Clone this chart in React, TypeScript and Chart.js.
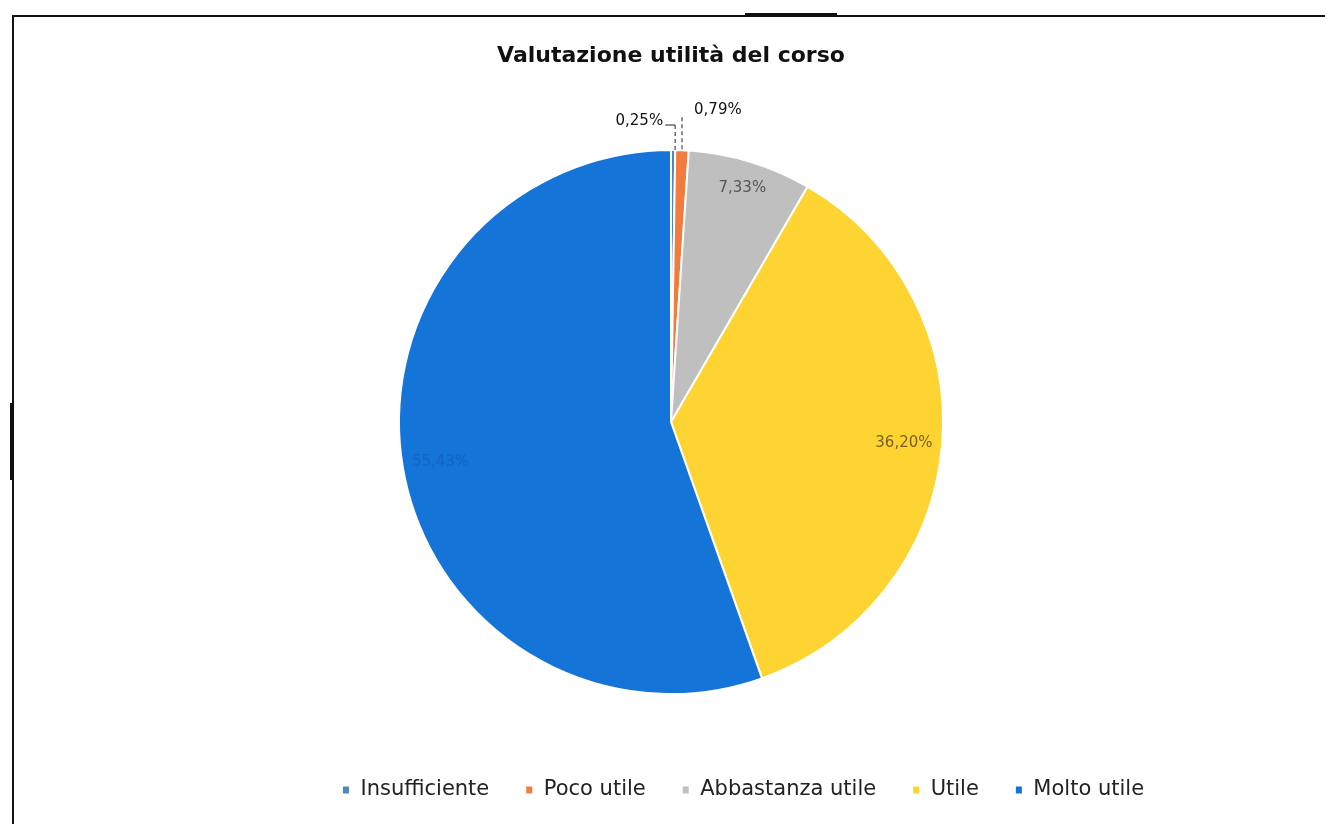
import React, { useEffect, useRef } from "react";
import { Chart, registerables } from "chart.js";

Chart.register(...registerables);

const categories = ["Insufficiente", "Poco utile", "Abbastanza utile", "Utile", "Molto utile"];
const percentValues = [0.25, 0.79, 7.33, 36.2, 55.43];
const valueLabels = ["0,25%", "0,79%", "7,33%", "36,20%", "55,43%"];
const sliceColors = ["#4f86b8", "#f47b3e", "#bfbfbf", "#fdd432", "#1474d8"];
const labelColors = ["#111111", "#111111", "#555555", "#7d5f1c", "#1266c0"];
const chartTitle = "Valutazione utilità del corso";

const FONT = "'DejaVu Sans', Verdana, sans-serif";
const LEGEND_SIZE = 21;
const LEGEND_PAD = 36;

const labelPlugin = {
  id: "sliceLabels",
  afterDatasetsDraw(chart: any) {
    const ctx = chart.ctx;
    const meta = chart.getDatasetMeta(0);
    ctx.save();
    ctx.font = "15px " + FONT;
    ctx.textBaseline = "middle";
    meta.data.forEach((arc: any, i: number) => {
      const { x, y, startAngle, endAngle, outerRadius } = arc.getProps(
        ["x", "y", "startAngle", "endAngle", "outerRadius"],
        true
      );
      const mid = (startAngle + endAngle) / 2;
      ctx.fillStyle = labelColors[i];
      if (i >= 2) {
        const f = i === 2 ? 0.9 : 0.86;
        const lx = x + Math.cos(mid) * outerRadius * f;
        const ly = y + Math.sin(mid) * outerRadius * f;
        ctx.textAlign = "center";
        ctx.fillText(valueLabels[i], lx, ly);
      } else {
        const px = x + Math.cos(mid) * outerRadius;
        const py = y + Math.sin(mid) * outerRadius;
        ctx.strokeStyle = "#222222";
        ctx.lineWidth = 1;
        if (i === 0) {
          const ty = py - 27;
          ctx.textAlign = "right";
          ctx.fillText(valueLabels[i], px - 10, ty - 2);
          ctx.setLineDash([]);
          ctx.beginPath();
          ctx.moveTo(px - 8, ty + 2);
          ctx.lineTo(px + 2, ty + 2);
          ctx.stroke();
          ctx.setLineDash([4, 3]);
          ctx.beginPath();
          ctx.moveTo(px + 2, ty + 2);
          ctx.lineTo(px + 2, py);
          ctx.stroke();
        } else {
          const ty = py - 40;
          ctx.textAlign = "left";
          ctx.fillText(valueLabels[i], px + 12, ty);
          ctx.setLineDash([4, 3]);
          ctx.beginPath();
          ctx.moveTo(px, ty + 7);
          ctx.lineTo(px, py);
          ctx.stroke();
        }
        ctx.setLineDash([]);
      }
    });
    ctx.restore();
  },
};

const layoutPlugin = {
  id: "layoutAdjust",
  afterLayout(chart: any) {
    const lg = chart.legend;
    if (lg) {
      const h = lg.bottom - lg.top;
      lg.left += 72;
      lg.right += 72;
      lg.top = 790 - LEGEND_PAD - LEGEND_SIZE / 2;
      lg.bottom = lg.top + h;
    }
    const ca = chart.chartArea;
    ca.top = 149;
    ca.bottom = 695;
    ca.height = ca.bottom - ca.top;
  },
};

export default function App() {
  const canvasRef = useRef<HTMLCanvasElement>(null);

  useEffect(() => {
    document.body.style.margin = "0";
    document.body.style.background = "#ffffff";
    const chart = new Chart(canvasRef.current as HTMLCanvasElement, {
      type: "pie",
      data: {
        labels: categories,
        datasets: [
          {
            data: percentValues,
            backgroundColor: sliceColors,
            borderColor: "#ffffff",
            borderWidth: 2,
          },
        ],
      },
      options: {
        animation: false,
        responsive: false,
        maintainAspectRatio: false,
        layout: { padding: { left: 17, right: 0, top: 0, bottom: 12 } },
        plugins: {
          title: {
            display: true,
            text: chartTitle,
            color: "#111111",
            font: { size: 22, weight: "bold", family: FONT },
            padding: { top: 43, bottom: 80 },
          },
          legend: {
            position: "bottom",
            labels: {
              color: "#222222",
              font: { size: LEGEND_SIZE, family: FONT },
              boxWidth: 8,
              boxHeight: 9,
              padding: LEGEND_PAD,
            },
          },
          tooltip: { enabled: false },
        },
      },
      plugins: [labelPlugin, layoutPlugin],
    });
    return () => chart.destroy();
  }, []);

  return (
    <div style={{ position: "relative", width: 1325, height: 824, background: "#fff" }}>
      <canvas ref={canvasRef} width={1325} height={824} style={{ display: "block" }} />
      <div style={{ position: "absolute", left: 13, top: 15, width: 1312, height: 2, background: "#111" }} />
      <div style={{ position: "absolute", left: 745, top: 13, width: 92, height: 4, background: "#111" }} />
      <div style={{ position: "absolute", left: 12, top: 15, width: 2, height: 809, background: "#111" }} />
      <div style={{ position: "absolute", left: 10, top: 403, width: 4, height: 77, background: "#111" }} />
    </div>
  );
}
